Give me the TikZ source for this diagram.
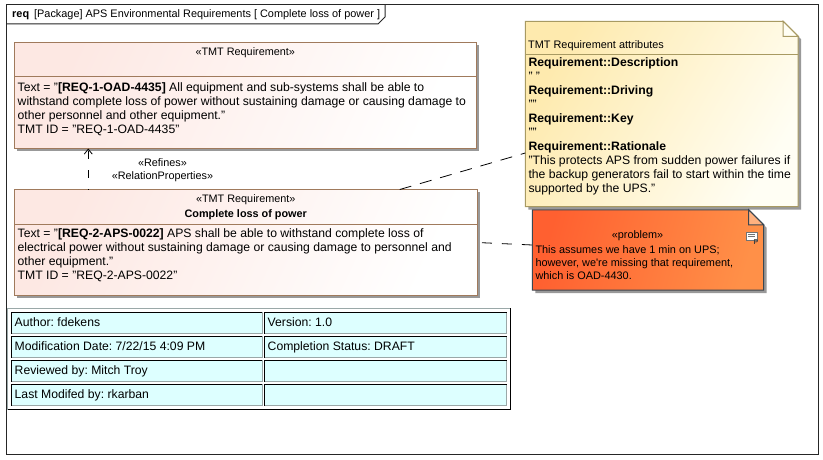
\documentclass[tikz,border=0pt]{standalone}
\usepackage{fontspec}
\setmainfont{Liberation Sans}
\usepackage{xcolor}
\usetikzlibrary{positioning,arrows.meta,shadows}
\definecolor{reqpink}{HTML}{FDE8E3}
\definecolor{reqborder}{HTML}{A07A5C}
\definecolor{noteyellow}{HTML}{FEEAAE}
\definecolor{notelight}{HTML}{FFFEF4}
\definecolor{noteborder}{HTML}{A89A62}
\definecolor{probfrom}{HTML}{FF6030}
\definecolor{probto}{HTML}{FF9048}
\definecolor{probborder}{HTML}{3C4650}
\definecolor{cellcyan}{HTML}{DDFFFF}
\definecolor{cellgray}{HTML}{9AA8A8}
\begin{document}
\frenchspacing
\begin{tikzpicture}[
  x=1pt, y=-1pt,
  bodytext/.style={inner sep=0pt, align=left, font=\fontsize{12.2}{14}\selectfont},
  headtext/.style={inner sep=0pt, align=center, font=\fontsize{10.85}{14}\selectfont},
  reqbox/.style={draw=reqborder, line width=1pt, left color=reqpink, right color=white, shading angle=65,
    general shadow={shadow xshift=2.5pt, shadow yshift=-2.5pt, fill=black!40}, minimum height=106pt, inner sep=0pt, outer sep=0pt},
  dep/.style={line width=0.8pt, dash pattern=on 8pt off 11pt, dash phase=7pt},
  tablebox/.style={draw=cellgray, line width=1pt, fill=white, minimum width=503pt, minimum height=101pt, inner sep=0pt, outer sep=0pt},
  cellbox/.style={draw=cellgray, line width=1pt, fill=cellcyan, minimum height=21pt, inner sep=0pt, outer sep=0pt},
  leftcell/.style={cellbox, minimum width=250.5pt},
  rightcell/.style={cellbox, minimum width=242pt},
  celltext/.style={inner sep=0pt, text height=9pt, text depth=2.5pt, font=\fontsize{12.2}{14}\selectfont},
]
\path[use as bounding box, fill=white] (0,0) rectangle (823,460);
% diagram frame
\node[inner sep=0pt, outer sep=0pt, minimum width=812pt, minimum height=449pt, draw=black!85, line width=1pt] (frame) at (412,229.5) {};
\draw[line width=1pt, black!85] (6,24) coordinate (tabbase) -- (378,24) -- (385,17) -- (385,5) coordinate (tabtop);
\node[inner sep=0pt, anchor=west, font=\fontsize{10.9}{13}\selectfont] (title) at (12,14.5) {\textbf{req}\hspace{5pt}[Package] APS Environmental Requirements [ Complete loss of power ]};
% requirements
\node[reqbox, minimum width=461.5pt] (reqOAD) at (245.25,95.5) {};
\node[reqbox, minimum width=462.5pt, below right=41pt and 0pt of reqOAD.south west] (reqAPS) {};
\draw[draw=reqborder, line width=1pt] (14.5,77) coordinate (oadsepl) -- (476,77) coordinate (oadsepr);
\draw[draw=reqborder, line width=1pt] (14.5,224.5) coordinate (apssepl) -- (477,224.5) coordinate (apssepr);
\node[headtext, below=5pt of reqOAD.north] (oadstereo) {«TMT Requirement»};
\node[bodytext, below right=40pt and 3pt of reqOAD.north west] (oadtext) {Text = "\textbf{[REQ-1-OAD-4435]} All equipment and sub-systems shall be able to\\withstand complete loss of power without sustaining damage or causing damage to\\other personnel and other equipment."\\TMT ID = "REQ-1-OAD-4435"};
\node[headtext, below=5pt of reqAPS.north] (apsstereo) {«TMT Requirement»};
\node[headtext, below=4.5pt of apsstereo, font=\fontsize{10.85}{14}\bfseries\selectfont] (apsname) {Complete loss of power};
\node[bodytext, below right=38.5pt and 3pt of reqAPS.north west] (apstext) {Text = "\textbf{[REQ-2-APS-0022]} APS shall be able to withstand complete loss of\\electrical power without sustaining damage or causing damage to personnel and\\other equipment."\\TMT ID = "REQ-2-APS-0022"};
% attributes note
\node[inner sep=0pt, minimum width=272.5pt, minimum height=185pt] (attrs) at (661.75,114) {};
\fill[black!40] ([shift={(3pt,-3pt)}]attrs.north west) -- ([shift={(-12pt,-3pt)}]attrs.north east) -- ([shift={(3pt,-18pt)}]attrs.north east) -- ([shift={(3pt,-3pt)}]attrs.south east) -- ([shift={(3pt,-3pt)}]attrs.south west) -- cycle;
\path[draw=noteborder, line width=1pt, left color=noteyellow, right color=notelight, shading angle=60]
  (attrs.north west) -- ([xshift=-15pt]attrs.north east) -- ([yshift=-15pt]attrs.north east) -- (attrs.south east) -- (attrs.south west) -- cycle;
\draw[draw=noteborder, line width=1pt, fill=notelight] ([xshift=-15pt]attrs.north east) |- ([yshift=-15pt]attrs.north east) -- cycle;
\draw[draw=noteborder, line width=1pt] (525.5,55) coordinate (attrsepl) -- (798,55) coordinate (attrsepr);
\node[inner sep=0pt, anchor=west, font=\fontsize{10.9}{14}\selectfont] (attrhead) at (528,46) {TMT Requirement attributes};
\node[bodytext, below right=36pt and 3pt of attrs.north west] (attrtext) {\textbf{Requirement::Description}\\" "\\\textbf{Requirement::Driving}\\""\\\textbf{Requirement::Key}\\""\\\textbf{Requirement::Rationale}\\"This protects APS from sudden power failures if\\the backup generators fail to start within the time\\supported by the UPS."};
% problem note
\node[inner sep=0pt, minimum width=231pt, minimum height=80pt] (problem) at (648,250) {};
\fill[black!40] ([shift={(3pt,-3pt)}]problem.north west) -- ([shift={(-12pt,-3pt)}]problem.north east) -- ([shift={(3pt,-18pt)}]problem.north east) -- ([shift={(3pt,-3pt)}]problem.south east) -- ([shift={(3pt,-3pt)}]problem.south west) -- cycle;
\path[draw=probborder, line width=1pt, left color=probfrom, right color=probto, shading angle=75]
  (problem.north west) -- ([xshift=-15pt]problem.north east) -- ([yshift=-15pt]problem.north east) -- (problem.south east) -- (problem.south west) -- cycle;
\draw[draw=probborder, line width=1pt, fill=probto!70!white] ([xshift=-15pt]problem.north east) |- ([yshift=-15pt]problem.north east) -- cycle;
\node[headtext, below=21pt of problem.north, xshift=-10.5pt] (probstereo) {«problem»};
\node[inner sep=0pt, align=left, below right=36pt and 3pt of problem.north west, font=\fontsize{10.9}{13}\selectfont] (probtext) {This assumes we have 1 min on UPS;\\however, we\textquotesingle re missing that requirement,\\which is OAD-4430.};
\node[inner sep=0pt, minimum width=11pt, minimum height=8pt, fill=white, draw=black!55, line width=0.7pt] (probicon) at (751.5,236) {};
\draw[black!55, line width=0.7pt] ([shift={(2pt,-2.5pt)}]probicon.north west) -- ([shift={(-2pt,-2.5pt)}]probicon.north east);
\draw[black!55, line width=0.7pt] ([shift={(2pt,-5pt)}]probicon.north west) -- ([shift={(-2pt,-5pt)}]probicon.north east);
\node[inner sep=0pt, font=\fontsize{7}{7}\bfseries\selectfont, text=black!75] (probmark) at (756,242.5) {P};
% connectors
\draw[dep, -{Straight Barb[length=5pt,width=8pt]}] ([xshift=-157.5pt]reqAPS.north) -- ([xshift=-157.5pt]reqAPS.north |- reqOAD.south);
\draw[dep, dash pattern=on 12pt off 9pt, dash phase=0pt] ([xshift=154pt]reqAPS.north) -- ([yshift=-39pt]attrs.west);
\draw[dep, dash pattern=on 10pt off 10pt, dash phase=15pt] (reqAPS.east) -- ([yshift=5pt]problem.west);
\node[headtext, font=\fontsize{10.85}{13}\selectfont] (refines) at (162.5,170) {«Refines»\\«RelationProperties»};
% info table
\node[tablebox] (infotable) at (259,358.5) {};
\draw[line width=1pt] (infotable.north east) |- (infotable.south west);
\node[leftcell, anchor=north west] (author) at (11.5,312.5) {};
\node[rightcell, right=2.5pt of author] (version) {};
\node[leftcell, below=3pt of author] (moddate) {};
\node[rightcell, right=2.5pt of moddate] (status) {};
\node[leftcell, below=3pt of moddate] (reviewed) {};
\node[rightcell, right=2.5pt of reviewed] (blanka) {};
\node[leftcell, below=3pt of reviewed] (modifier) {};
\node[rightcell, right=2.5pt of modifier] (blankb) {};
\foreach \cell in {author,version,moddate,status,reviewed,blanka,modifier,blankb}
  \draw[line width=1pt] (\cell.south west) -- (\cell.north west) -- (\cell.north east);
\node[celltext, anchor=west] (authortext) at ([xshift=3pt]author.west) {Author: fdekens};
\node[celltext, anchor=west] (versiontext) at ([xshift=3pt]version.west) {Version: 1.0};
\node[celltext, anchor=west] (moddatetext) at ([xshift=3pt]moddate.west) {Modification Date: 7/22/15 4:09 PM};
\node[celltext, anchor=west] (statustext) at ([xshift=3pt]status.west) {Completion Status: DRAFT};
\node[celltext, anchor=west] (reviewedtext) at ([xshift=3pt]reviewed.west) {Reviewed by: Mitch Troy};
\node[celltext, anchor=west] (modifiertext) at ([xshift=3pt]modifier.west) {Last Modifed by: rkarban};
\end{tikzpicture}
\end{document}
